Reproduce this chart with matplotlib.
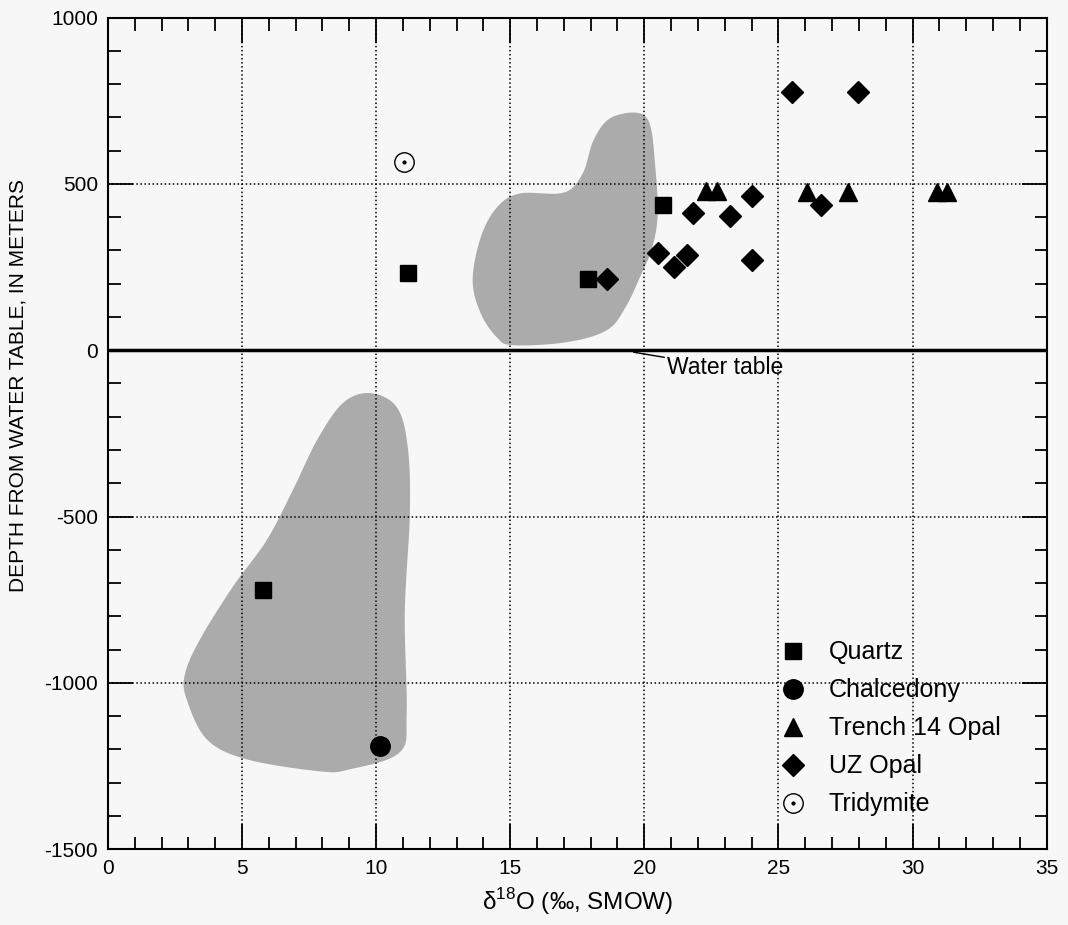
import numpy as np
import matplotlib
matplotlib.use('Agg')
import matplotlib.pyplot as plt
from matplotlib.ticker import MultipleLocator

plt.rcParams['font.family'] = ['Liberation Sans', 'DejaVu Sans']
plt.rcParams['axes.unicode_minus'] = False

# dati (delta 18O, profondita)
quartz_x = [11.2, 17.9, 20.7, 5.8]
quartz_y = [231, 215, 438, -722]
chalc_x = [10.15]
chalc_y = [-1190]
trench_x = [22.3, 22.7, 26.05, 27.6, 30.9, 31.3]
trench_y = [478, 478, 476, 476, 476, 476]
uz_x = [18.6, 20.5, 21.1, 21.6, 21.8, 23.2, 24.0, 24.0, 26.6, 25.5, 27.95]
uz_y = [213, 291, 250, 285, 411, 402, 465, 270, 438, 776, 776]
trid_x = [11.05]
trid_y = [567]

# contorni delle aree ombreggiate
upper_x = [19.7, 20.2, 20.4, 20.5, 20.3, 19.9, 19.3, 18.6, 17.1, 15.1, 14.5,
           13.9, 13.6, 13.9, 14.5, 15.35, 17.0, 17.7, 18.1, 18.7]
upper_y = [714, 681, 561, 411, 309, 231, 129, 60, 24, 15, 39,
           111, 210, 339, 429, 471, 474, 531, 630, 696]
lower_x = [9.77, 10.77, 11.18, 11.26, 11.07, 11.14, 10.88, 9.02, 7.9, 5.18,
           3.69, 2.94, 2.87, 3.43, 4.66, 5.93, 6.9, 7.8, 8.76]
lower_y = [-129, -171, -291, -489, -789, -1089, -1209, -1260, -1266, -1230,
           -1170, -1050, -975, -870, -711, -570, -420, -270, -159]


#spline chiusa per ammorbidire i contorni
def smooth(xs, ys, n=20):
    p = np.column_stack([xs, ys]).astype(float)
    out = []
    k = len(p)
    for i in range(k):
        p0, p1, p2, p3 = p[i - 1], p[i], p[(i + 1) % k], p[(i + 2) % k]
        for t in np.linspace(0, 1, n, endpoint=False):
            t2, t3 = t * t, t * t * t
            out.append(0.5 * (2 * p1 + (-p0 + p2) * t + (2 * p0 - 5 * p1 + 4 * p2 - p3) * t2
                              + (-p0 + 3 * p1 - 3 * p2 + p3) * t3))
    out = np.array(out)
    return out[:, 0], out[:, 1]


fig = plt.figure(figsize=(10.68, 9.25), dpi=100, facecolor='#f7f7f7')
ax = fig.add_axes([0.101, 0.082, 0.879, 0.899])
ax.set_facecolor('#f7f7f7')

for xs, ys in [(upper_x, upper_y), (lower_x, lower_y)]:
    sx, sy = smooth(xs, ys)
    ax.fill(sx, sy, color='#ababab', lw=0, zorder=1)

ax.axhline(0, color='black', lw=2.5, zorder=2)

h_q, = ax.plot(quartz_x, quartz_y, 's', color='black', ms=12, ls='none', zorder=3)
h_c, = ax.plot(chalc_x, chalc_y, 'o', color='black', ms=14, ls='none', zorder=3)
h_t, = ax.plot(trench_x, trench_y, '^', color='black', ms=13, ls='none', zorder=3)
h_u, = ax.plot(uz_x, uz_y, 'D', color='black', ms=11.5, ls='none', zorder=3)
h_o, = ax.plot(trid_x, trid_y, 'o', mfc='none', mec='black', mew=1.0, ms=14, ls='none', zorder=3)
h_d, = ax.plot(trid_x, trid_y, 'o', color='black', ms=2, ls='none', zorder=3)

ax.annotate('Water table', xy=(19.6, -6), xytext=(20.85, -52), fontsize=16.5,
            va='center', ha='left',
            arrowprops=dict(arrowstyle='-', lw=1, color='black', shrinkA=0, shrinkB=0))

ax.set_xlim(0, 35)
ax.set_ylim(-1500, 1000)
ax.xaxis.set_major_locator(MultipleLocator(5))
ax.xaxis.set_minor_locator(MultipleLocator(1))
ax.yaxis.set_major_locator(MultipleLocator(500))
ax.yaxis.set_minor_locator(MultipleLocator(100))
ax.tick_params(which='both', direction='in', top=True, right=True, width=1.3)
ax.tick_params(which='major', length=18, labelsize=15, pad=7)
ax.tick_params(which='minor', length=9)
ax.grid(True, which='major', ls=':', color='black', lw=1.1)
for s in ax.spines.values():
    s.set_linewidth(1.5)

ax.set_xlabel(r'δ$^{\mathregular{18}}$O (‰, SMOW)', fontsize=17.5)
ax.xaxis.set_label_coords(0.5, -0.045)
ax.set_ylabel('DEPTH FROM WATER TABLE, IN METERS', fontsize=15)
ax.yaxis.set_label_coords(-0.086, 0.558)

ax.legend([h_q, h_c, h_t, h_u, (h_o, h_d)],
          ['Quartz', 'Chalcedony', 'Trench 14 Opal', 'UZ Opal', 'Tridymite'],
          loc='upper left', bbox_to_anchor=(0.716, 0.251), frameon=False,
          fontsize=18, labelspacing=0.56, handlelength=1.0, handletextpad=0.95,
          borderpad=0, borderaxespad=0)

plt.savefig('out.png', dpi=100, facecolor=fig.get_facecolor())
